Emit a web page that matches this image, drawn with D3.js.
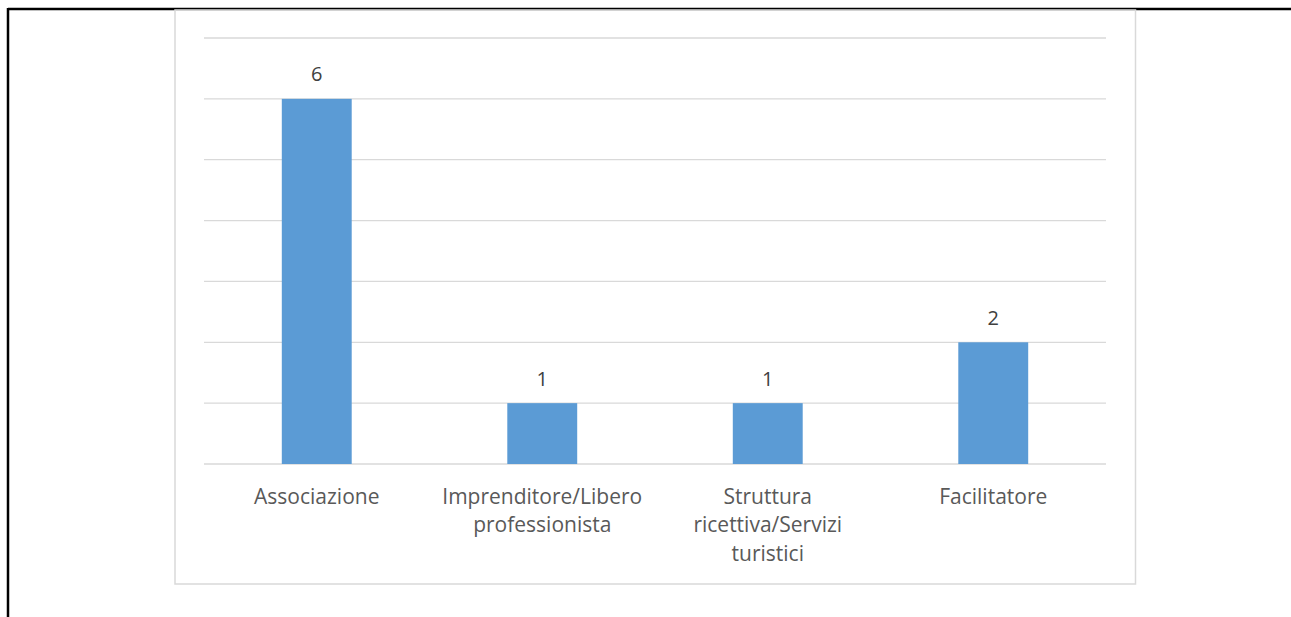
<!DOCTYPE html>
<html><head><meta charset="utf-8">
<script src="https://cdn.jsdelivr.net/npm/d3@7"></script>
<style>body{margin:0;background:#fff;} svg{display:block;}</style>
</head><body>
<svg id="c" width="1291" height="617"></svg>
<script>
const categories = [["Associazione"], ["Imprenditore/Libero", "professionista"], ["Struttura", "ricettiva/Servizi", "turistici"], ["Facilitatore"]];
const values = [6, 1, 1, 2];
const yTicks = [0, 1, 2, 3, 4, 5, 6, 7];

const svg = d3.select("#c");
svg.append("line").attr("x1", 8).attr("x2", 1291).attr("y1", 9).attr("y2", 9).attr("stroke", "#000").attr("stroke-width", 2.5);
svg.append("line").attr("x1", 8).attr("x2", 8).attr("y1", 8).attr("y2", 617).attr("stroke", "#000").attr("stroke-width", 2.5);
svg.append("rect").attr("x", 175).attr("y", 10).attr("width", 960.5).attr("height", 574).attr("fill", "none").attr("stroke", "#d9d9d9").attr("stroke-width", 1.5);

const x = d3.scaleBand().domain(d3.range(categories.length)).range([204, 1106]).padding(0);
const y = d3.scaleLinear().domain([0, 7]).range([464, 38]);
const bw = x.bandwidth() * 0.31;

svg.append("g").selectAll("line").data(yTicks).join("line")
  .attr("x1", 204).attr("x2", 1106)
  .attr("y1", d => y(d)).attr("y2", d => y(d))
  .attr("stroke", "#d9d9d9").attr("stroke-width", 1.3);

svg.append("g").selectAll("rect").data(values).join("rect")
  .attr("x", (d, i) => x(i) + x.bandwidth() / 2 - bw / 2)
  .attr("width", bw)
  .attr("y", d => y(d))
  .attr("height", d => y(0) - y(d))
  .attr("fill", "#5b9bd5");

svg.append("g").selectAll("text").data(values).join("text")
  .attr("x", (d, i) => x(i) + x.bandwidth() / 2)
  .attr("y", d => y(d) - 17.5)
  .attr("text-anchor", "middle")
  .attr("font-family", "'Open Sans', sans-serif")
  .attr("font-size", 20)
  .attr("fill", "#404040")
  .text(d => d);

const lab = svg.append("g").selectAll("text").data(categories).join("text")
  .attr("text-anchor", "middle")
  .attr("font-family", "'Open Sans', sans-serif")
  .attr("font-size", 21)
  .attr("fill", "#595959");
lab.each(function(lines, i) {
  d3.select(this).selectAll("tspan").data(lines).join("tspan")
    .attr("x", x(i) + x.bandwidth() / 2)
    .attr("y", (l, j) => 503.5 + j * 28.5)
    .text(l => l);
});
</script>
</body></html>
